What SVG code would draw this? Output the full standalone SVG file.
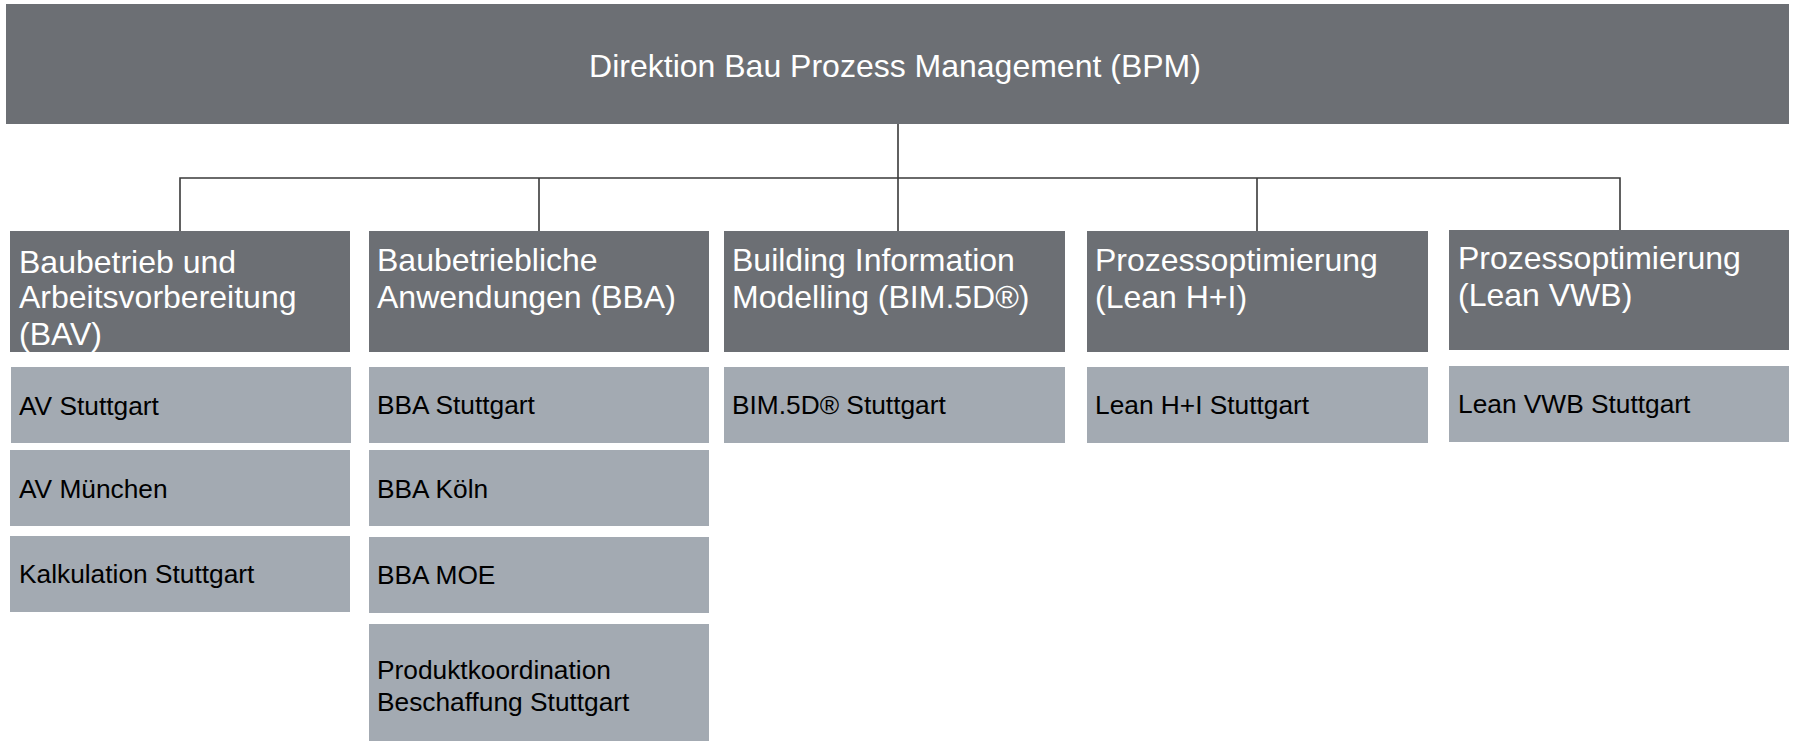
<svg xmlns="http://www.w3.org/2000/svg" width="1799" height="741" viewBox="0 0 1799 741">
<style>
.top{fill:#6c6f74}
.hd{fill:#6c6f74}
.sb{fill:#a3aab2}
.ht{font-family:"Liberation Sans",Arial,sans-serif;font-size:32px;fill:#ffffff}
.tt{font-family:"Liberation Sans",Arial,sans-serif;font-size:32px;fill:#ffffff}
.st{font-family:"Liberation Sans",Arial,sans-serif;font-size:26.3px;fill:#000000}
.ln{stroke:#3a3a3a;stroke-width:1.6;fill:none}
</style>
<defs>
<clipPath id="clipBAV"><rect x="10" y="231" width="340" height="121"/></clipPath>
</defs>
<rect width="1799" height="741" fill="#ffffff"/>
<g id="connectors">
<path class="ln" d="M898 124V178M180 231V178H1620V231M539 178V231M898 178V231M1257 178V231"/>
</g>
<g id="bpm">
<rect class="top" x="6" y="4" width="1783" height="120"/>
<text class="tt" x="895" y="77" text-anchor="middle">Direktion Bau Prozess Management (BPM)</text>
</g>
<g id="bav">
<rect class="hd" x="10" y="231" width="340" height="121"/>
<g clip-path="url(#clipBAV)">
<text class="ht" x="19" y="273">Baubetrieb und</text>
<text class="ht" x="19" y="308">Arbeitsvorbereitung</text>
<text class="ht" x="19" y="345">(BAV)</text>
</g>
</g>
<g id="av-stuttgart"><rect class="sb" x="11" y="367" width="340" height="76"/><text class="st" x="19" y="415">AV Stuttgart</text></g>
<g id="av-muenchen"><rect class="sb" x="10" y="450" width="340" height="76"/><text class="st" x="19" y="498">AV München</text></g>
<g id="kalkulation"><rect class="sb" x="10" y="536" width="340" height="76"/><text class="st" x="19" y="583">Kalkulation Stuttgart</text></g>
<g id="bba">
<rect class="hd" x="369" y="231" width="340" height="121"/>
<text class="ht" x="377" y="271">Baubetriebliche</text>
<text class="ht" x="377" y="308">Anwendungen (BBA)</text>
</g>
<g id="bba-stuttgart"><rect class="sb" x="369" y="367" width="340" height="76"/><text class="st" x="377" y="414">BBA Stuttgart</text></g>
<g id="bba-koeln"><rect class="sb" x="369" y="450" width="340" height="76"/><text class="st" x="377" y="498">BBA Köln</text></g>
<g id="bba-moe"><rect class="sb" x="369" y="537" width="340" height="76"/><text class="st" x="377" y="584">BBA MOE</text></g>
<g id="produkt"><rect class="sb" x="369" y="624" width="340" height="117"/><text class="st" x="377" y="679">Produktkoordination</text><text class="st" x="377" y="711">Beschaffung Stuttgart</text></g>
<g id="bim">
<rect class="hd" x="724" y="231" width="341" height="121"/>
<text class="ht" x="732" y="271">Building Information</text>
<text class="ht" x="732" y="308">Modelling (BIM.5D®)</text>
</g>
<g id="bim-stuttgart"><rect class="sb" x="724" y="367" width="341" height="76"/><text class="st" x="732" y="414">BIM.5D® Stuttgart</text></g>
<g id="lean-hi">
<rect class="hd" x="1087" y="231" width="341" height="121"/>
<text class="ht" x="1095" y="271">Prozessoptimierung</text>
<text class="ht" x="1095" y="308">(Lean H+I)</text>
</g>
<g id="lean-hi-stuttgart"><rect class="sb" x="1087" y="367" width="341" height="76"/><text class="st" x="1095" y="414">Lean H+I Stuttgart</text></g>
<g id="lean-vwb">
<rect class="hd" x="1449" y="230" width="340" height="120"/>
<text class="ht" x="1458" y="269">Prozessoptimierung</text>
<text class="ht" x="1458" y="306">(Lean VWB)</text>
</g>
<g id="lean-vwb-stuttgart"><rect class="sb" x="1449" y="366" width="340" height="76"/><text class="st" x="1458" y="413">Lean VWB Stuttgart</text></g>
</svg>
